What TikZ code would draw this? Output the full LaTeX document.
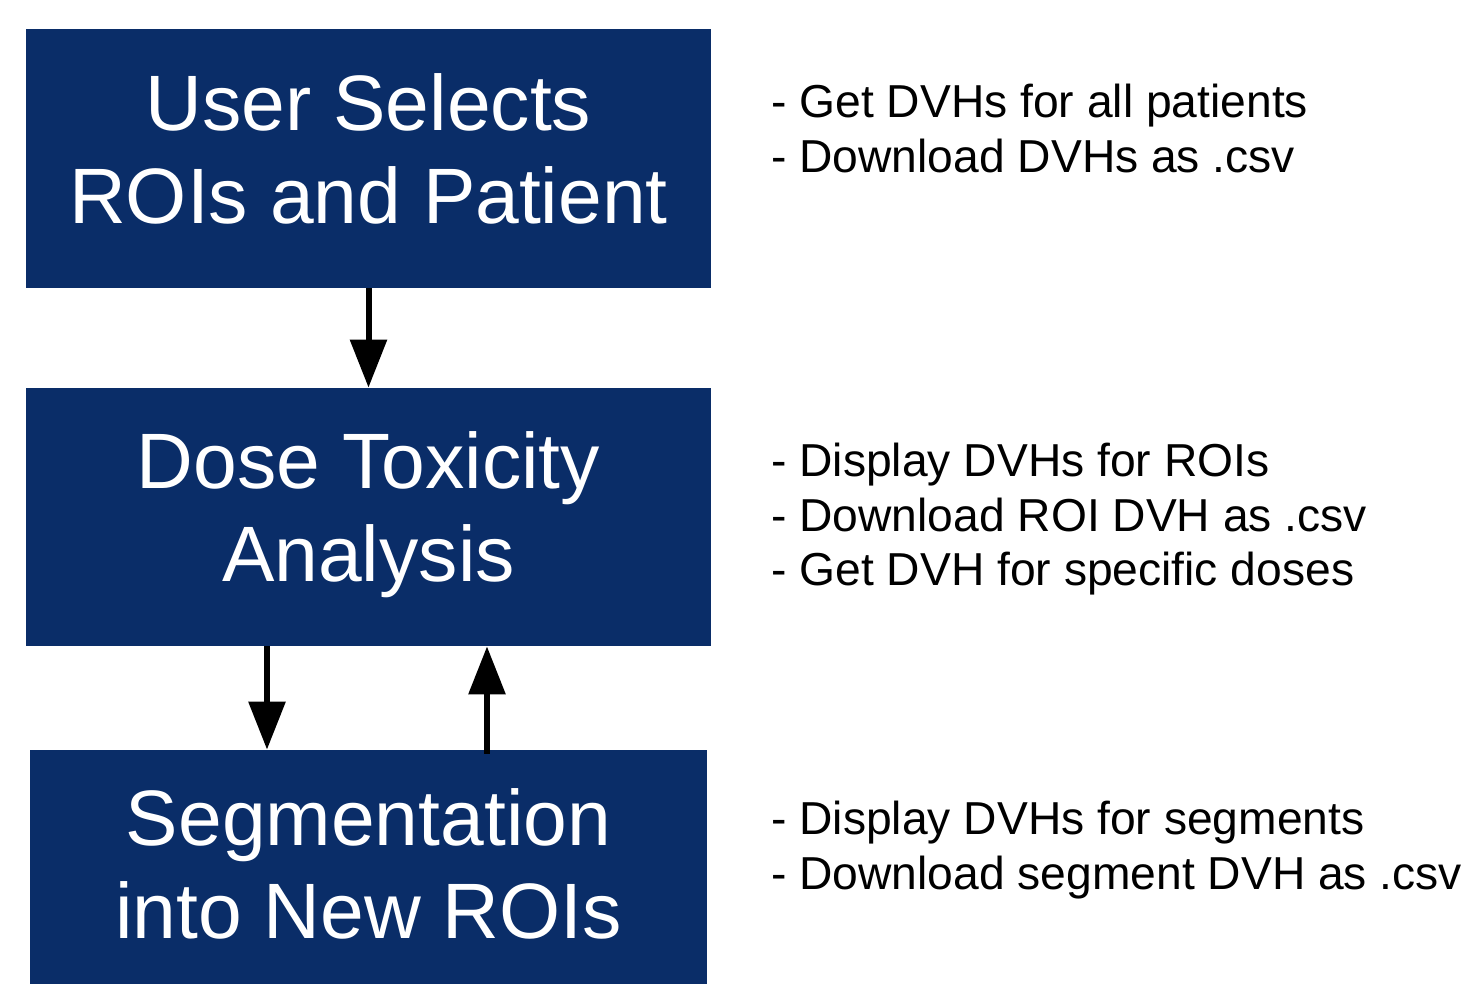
\documentclass[tikz,border=0pt]{standalone}
\usepackage{fontspec}
\setmainfont{Liberation Sans}
\usepackage{xcolor}
\usetikzlibrary{arrows.meta}
\definecolor{boxnavy}{RGB}{10,45,104}

\begin{document}
\begin{tikzpicture}[x=0.5pt,y=0.5pt,yscale=-1,
  stagebox/.style={fill=boxnavy, draw=none, inner sep=0pt},
  stagetext/.style={text=white, align=center, inner sep=0pt, font=\fontsize{39.3pt}{46.5pt}\selectfont},
  notetext/.style={anchor=north west, align=left, inner sep=0pt, font=\fontsize{23.1pt}{27.2pt}\selectfont},
  flowarrow/.style={line width=3pt, -{Triangle[width=18pt,length=24pt]}}]
\useasboundingbox (0,0) rectangle (1467,984);

%Shape: Rectangle [select]
\draw (368.5,158.5) node (selectbox) [stagebox, minimum width=342.5pt, minimum height=129.5pt] {};
%Shape: Rectangle [toxicity]
\draw (368.5,517) node (toxbox) [stagebox, minimum width=342.5pt, minimum height=129pt] {};
%Shape: Rectangle [segmentation]
\draw (368.5,867) node (segbox) [stagebox, minimum width=338.5pt, minimum height=117pt] {};

\coordinate (downx) at (267,0);
\coordinate (upx) at (487,0);

%Straight Lines
\draw [flowarrow] (selectbox.south) -- (toxbox.north);
%Straight Lines
\draw [flowarrow] (downx |- toxbox.south) -- (downx |- segbox.north);
%Straight Lines
\draw [flowarrow] ([yshift=2pt]upx |- segbox.north) -- (upx |- toxbox.south);

% Text Node
\draw (368.5,148.5) node (selecttext) [stagetext] {User Selects\\ROIs and Patient};
% Text Node
\draw (368.5,514.5) node (toxtext) [stagetext] {Dose Toxicity\\Analysis};
% Text Node
\draw (368.5,864) node (segtext) [stagetext] {Segmentation\\into New ROIs};

% Text Node
\draw (771,84) node (selectnote) [notetext] {- Get DVHs for all patients\\- Download DVHs as .csv};
% Text Node
\draw (771,443) node (toxnote) [notetext] {- Display DVHs for ROIs\\- Download ROI DVH as .csv\\- Get DVH for specific doses};
% Text Node
\draw (771,801) node (segnote) [notetext] {- Display DVHs for segments\\- Download segment DVH as .csv};

\end{tikzpicture}
\end{document}
